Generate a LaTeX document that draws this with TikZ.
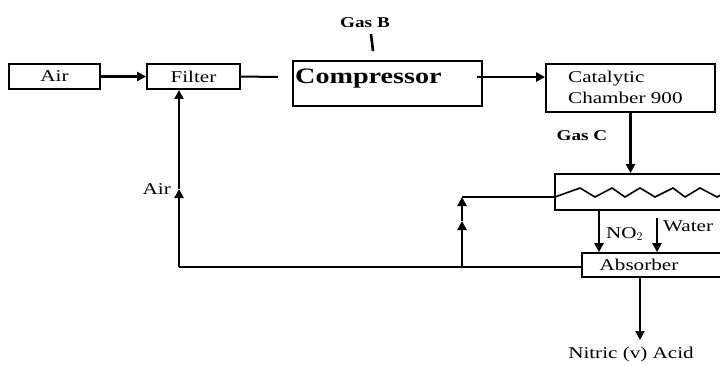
\documentclass[tikz,border=0pt]{standalone}
\usepackage{fontspec}
\setmainfont[FakeStretch=1.28]{Liberation Serif}
\usetikzlibrary{arrows.meta}
\begin{document}
\begin{tikzpicture}[x=1pt,y=-1pt,
  box/.style={draw, line width=1.8pt, inner sep=0pt},
  flow/.style={line width=2.6pt},
  thin flow/.style={line width=2pt},
  arr/.style={flow, -{Triangle[length=9pt,width=9pt]}},
  txt/.style={font=\fontsize{16.5}{21}\selectfont, inner sep=0pt},
  btxt/.style={font=\bfseries\fontsize{15}{18}\selectfont, inner sep=0pt},
]
\useasboundingbox (0,0) rectangle (720,365);
\clip (0,0) rectangle (720,365);

% boxes
\node[box, txt, minimum width=91pt, minimum height=25pt] (air) at (54.5,76.5) {Air};
\node[box, txt, minimum width=93pt, minimum height=25pt] (filter) at (193.5,76.5) {Filter};
\node[box, minimum width=189pt, minimum height=45pt] (comp) at (387.5,83.5) {};
\node[anchor=base west, inner sep=0pt, font=\bfseries\fontsize{22}{26}\selectfont] (comptxt) at (295,83) {Compressor};
\node[box, minimum width=169pt, minimum height=48pt] (cat) at (630.5,88) {};
\node[txt, anchor=base west] (cat1) at (568,82) {Catalytic};
\node[txt, anchor=base west] (cat2) at (568,103) {Chamber 900};
\node[box, minimum width=170pt, minimum height=36pt] (hx) at (640,192) {};
\node[box, minimum width=142pt, minimum height=24pt] (abs) at (653,265) {};
\node[txt] (abstxt) at (639,265) {Absorber};

% labels
\node[btxt, anchor=base] (gasb) at (365,27) {Gas B};
\node[btxt, anchor=base] (gasc) at (582,140) {Gas C};
\node[txt, anchor=base east] (airlbl) at (171,194) {Air};
\node[txt, anchor=base west] (no2) at (606,238) {NO$_2$};
\node[txt, anchor=base west] (water) at (663,231) {Water};
\node[txt, anchor=base] (nitric) at (631,358) {Nitric (v) Acid};

% coordinates
\coordinate (gb1) at (371,34);
\coordinate (gb2) at (373,51);
\coordinate (fend) at (278,77);
\coordinate (cstart) at (477,77);
\coordinate (j1) at (462,197);
\coordinate (j2) at (462,267);
\coordinate (jm) at (462,221);
\coordinate (b1) at (179,267);
\coordinate (am) at (179,189);
\coordinate (no2top) at (599,210);
\coordinate (wtop) at (657,218);
\coordinate (nout) at (640,340);

% connectors
\draw[flow] (gb1) -- (gb2);
\draw[arr] (air.east) -- (filter.west);
\draw[thin flow] (filter.east) -- (fend);
\draw[arr] (cstart) -- (cstart -| cat.west);
\draw[arr, line width=3pt] (cat.south) -- (cat.south |- hx.north);
\draw[thin flow] (hx.west |- j1) -- (j1);
\draw[arr] (j2) -- (jm);
\draw[arr] (jm) -- (j1);
\draw[thin flow] (abs.west |- j2) -- (b1);
\draw[arr] (b1) -- (am);
\draw[arr] (am) -- (am |- filter.south);
\draw[arr] (no2top) -- (no2top |- abs.north);
\draw[arr] (wtop) -- (wtop |- abs.north);
\draw[arr] (abs.south -| nout) -- (nout);

% heating coil
\draw[line width=1.6pt] (555,197) -- (580,188) -- (595,197) -- (612,188) -- (625,197)
  -- (640,188) -- (655,197) -- (673,188) -- (685,197) -- (700,188) -- (717,197) -- (725,193);
\end{tikzpicture}
\end{document}
